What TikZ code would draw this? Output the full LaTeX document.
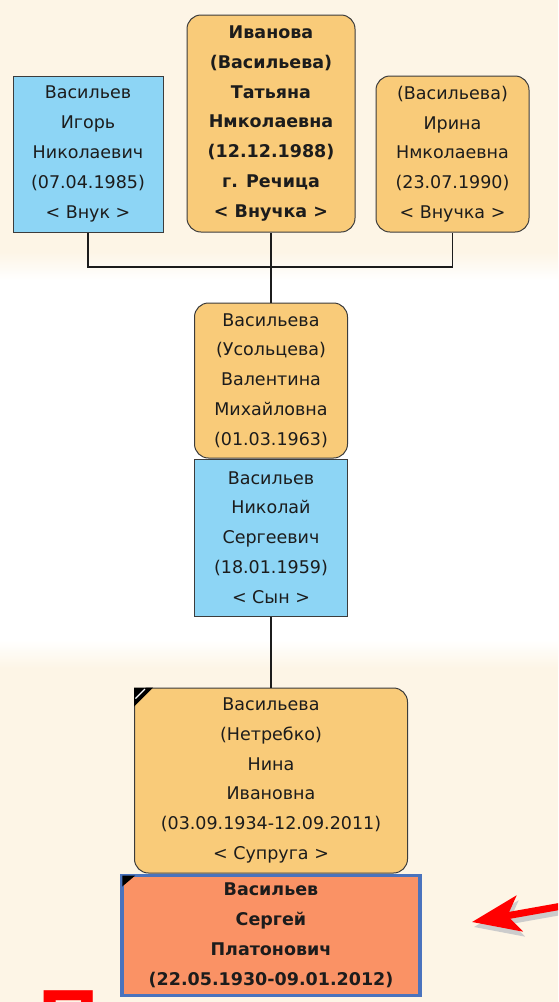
\documentclass[tikz,border=0pt]{standalone}
\usepackage{fontspec}
\setmainfont{DejaVu Sans}
\newfontfamily\captionfont{Liberation Sans}
\usetikzlibrary{arrows.meta,positioning}
\definecolor{cream}{HTML}{FDF5E6}
\definecolor{femfill}{HTML}{F9CB79}
\definecolor{malefill}{HTML}{8DD5F5}
\definecolor{selffill}{HTML}{FA9265}
\definecolor{selfline}{HTML}{4A73BD}
\definecolor{boxline}{HTML}{3C3C3C}
\definecolor{txt}{HTML}{1C1C1C}

\begin{document}
\begin{tikzpicture}[
  x=1pt,y=-1pt,
  font=\fontsize{17.5}{29.8}\selectfont,
  node distance=0pt,
  person/.style={draw=boxline,line width=1pt,align=center,text=txt,inner sep=0pt},
  male/.style={person,rectangle,fill=malefill},
  female/.style={person,rectangle,rounded corners=14pt,fill=femfill},
  selfbox/.style={person,rectangle,fill=selffill,draw=selfline,line width=3.5pt},
  heavy/.style={font=\fontsize{17.5}{29.8}\selectfont\bfseries},
  link/.style={draw=txt,line width=1.2pt},
  arr/.style={-{Stealth[length=48pt,width=36pt,inset=12pt]},line width=7pt},
]
\clip (0,0) rectangle (558,1002);
% background bands
\fill[cream] (0,0) rectangle (558,1002);
\fill[white] (0,280) rectangle (558,640);
\shade[top color=cream,bottom color=white] (0,252) rectangle (558,280);
\shade[top color=white,bottom color=cream] (0,640) rectangle (558,668);
% caption, cut by the page edge
\node[anchor=base west,inner sep=0pt,text=red,
      font=\captionfont\fontsize{84}{84}\bfseries\selectfont] (title) at (38,1048) {Поминание};
% grandchildren
\node[female,heavy,minimum width=168pt,minimum height=217pt] (tat) at (271,123.5)
  {Иванова\\(Васильева)\\Татьяна\\Нмколаевна\\(12.12.1988)\\г. Речица\\< Внучка >};
\node[male,minimum width=150pt,minimum height=156pt] (igor) at (88,154)
  {Васильев\\Игорь\\Николаевич\\(07.04.1985)\\< Внук >};
\node[female,minimum width=153pt,minimum height=156pt] (irina) at (452.5,154)
  {(Васильева)\\Ирина\\Нмколаевна\\(23.07.1990)\\< Внучка >};
% son and his wife
\node[female,minimum width=153pt,minimum height=155pt] (val) at (271,380.5)
  {Васильева\\(Усольцева)\\Валентина\\Михайловна\\(01.03.1963)};
\node[male,minimum width=153pt,minimum height=157pt,below=of val] (nik)
  {Васильев\\Николай\\Сергеевич\\(18.01.1959)\\< Сын >};
% root couple
\node[female,minimum width=273pt,minimum height=185pt] (nina) at (271,780.5)
  {Васильева\\(Нетребко)\\Нина\\Ивановна\\(03.09.1934-12.09.2011)\\< Супруга >};
\node[selfbox,heavy,minimum width=298pt,minimum height=120pt,below=of nina] (serg)
  {Васильев\\Сергей\\Платонович\\(22.05.1930-09.01.2012)};
% links
\coordinate (fork) at (271,267);
\draw[link] (igor.south) |- (fork) -| (irina.south);
\draw[link] (tat.south) -- (val.north);
\draw[link] (nik.south) -- (nina.north);
% corner marks
\fill[black] (nina.north west) -- ++(19,0) -- ++(-19,19) -- cycle;
\draw[white,line width=1.3pt] (nina.north west) ++(11,1.5) -- ++(-9.5,9.5);
\fill[black] (serg.north west) ++(2,2) -- ++(13,0) -- ++(-13,11) -- cycle;
% pointer
\coordinate (arrtail) at (562,906);
\coordinate (arrtip) at (472,922);
\draw[arr,black!20] ([shift={(2,5)}]arrtail) -- ([shift={(2,5)}]arrtip);
\draw[arr,red] (arrtail) -- (arrtip);
\end{tikzpicture}
\end{document}
